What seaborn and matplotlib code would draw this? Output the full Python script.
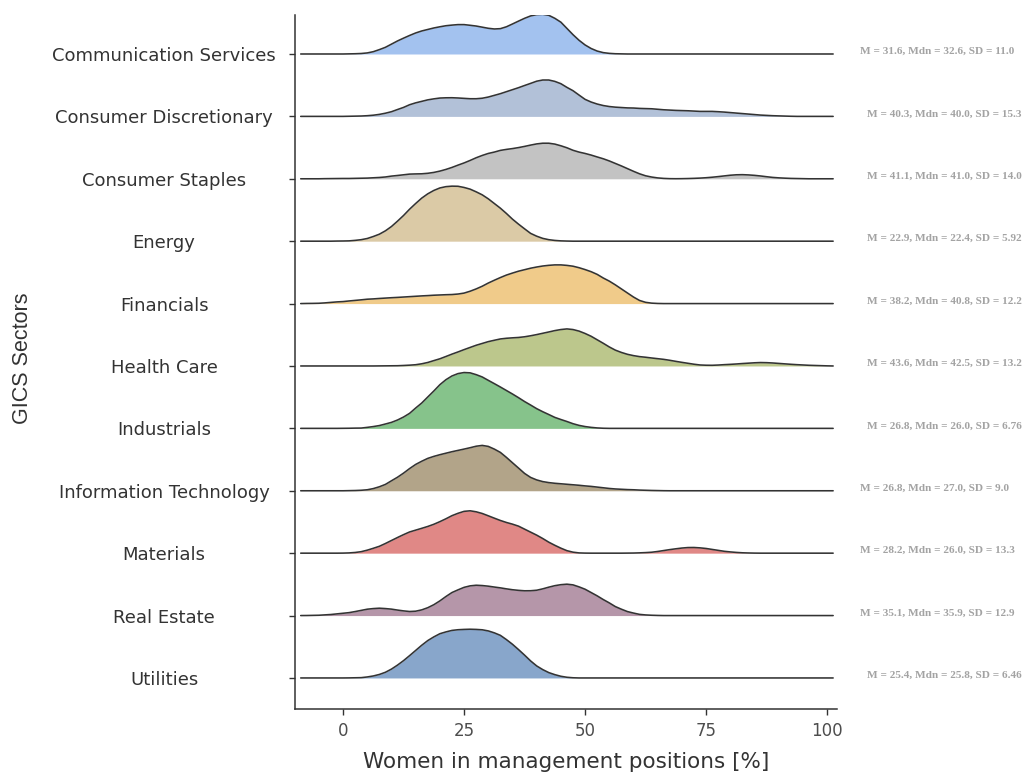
import numpy as np
import matplotlib
matplotlib.use("Agg")
import matplotlib.pyplot as plt
import seaborn as sns
from matplotlib import font_manager

# ---- data -------------------------------------------------------------
sectors = [
    "Communication Services", "Consumer Discretionary", "Consumer Staples",
    "Energy", "Financials", "Health Care", "Industrials",
    "Information Technology", "Materials", "Real Estate", "Utilities",
]

# evaluation points of the density curves (share of women, %)
pct = [-8.75, -7.5, -6.25, -5.0, -3.75, -2.5, -1.25, 0.0, 1.25, 2.5,
       3.75, 5.0, 6.25, 7.5, 8.75, 10.0, 11.25, 12.5, 13.75, 15.0,
       16.25, 17.5, 18.75, 20.0, 21.25, 22.5, 23.75, 25.0, 26.25, 27.5,
       28.75, 30.0, 31.25, 32.5, 33.75, 35.0, 36.25, 37.5, 38.75, 40.0,
       41.25, 42.5, 43.75, 45.0, 46.25, 47.5, 48.75, 50.0, 51.25, 52.5,
       53.75, 55.0, 56.25, 57.5, 58.75, 60.0, 61.25, 62.5, 63.75, 65.0,
       66.25, 67.5, 68.75, 70.0, 71.25, 72.5, 73.75, 75.0, 76.25, 77.5,
       78.75, 80.0, 81.25, 82.5, 83.75, 85.0, 86.25, 87.5, 88.75, 90.0,
       91.25, 92.5, 93.75, 95.0, 96.25, 97.5, 98.75, 100.0, 101.25]

# scaled density heights per sector (1.0 = one row of the ridgeline)
dens_communication = [
    0, 0, 0, 0, 0, 0, 0, 0, 0.002, 0.004,
    0.008, 0.017, 0.037, 0.07, 0.107, 0.158, 0.209, 0.254, 0.297, 0.337,
    0.369, 0.393, 0.417, 0.436, 0.453, 0.463, 0.471, 0.471, 0.46, 0.448,
    0.43, 0.412, 0.401, 0.406, 0.436, 0.481, 0.527, 0.572, 0.61, 0.631,
    0.636, 0.62, 0.572, 0.51, 0.41, 0.31, 0.22, 0.145, 0.088, 0.047,
    0.022, 0.01, 0.004, 0.002, 0, 0, 0, 0, 0, 0,
    0, 0, 0, 0, 0, 0, 0, 0, 0, 0,
    0, 0, 0, 0, 0, 0, 0, 0, 0, 0,
    0, 0, 0, 0, 0, 0, 0, 0, 0]
dens_discretionary = [
    0, 0, 0, 0, 0, 0, 0, 0, 0.002, 0.004,
    0.006, 0.011, 0.019, 0.032, 0.051, 0.075, 0.11, 0.144, 0.187, 0.217,
    0.241, 0.265, 0.281, 0.294, 0.298, 0.299, 0.295, 0.289, 0.283, 0.283,
    0.291, 0.31, 0.337, 0.364, 0.396, 0.428, 0.46, 0.495, 0.529, 0.564,
    0.583, 0.583, 0.561, 0.524, 0.465, 0.412, 0.342, 0.273, 0.23, 0.198,
    0.174, 0.158, 0.148, 0.142, 0.136, 0.134, 0.128, 0.125, 0.122, 0.114,
    0.106, 0.101, 0.096, 0.093, 0.09, 0.085, 0.08, 0.08, 0.08, 0.075,
    0.069, 0.061, 0.053, 0.045, 0.037, 0.029, 0.021, 0.016, 0.011, 0.008,
    0.005, 0.002, 0, 0, 0, 0, 0, 0, 0]
dens_staples = [
    0, 0, 0, 0, 0.002, 0.003, 0.004, 0.005, 0.005, 0.007,
    0.009, 0.011, 0.016, 0.021, 0.029, 0.043, 0.053, 0.064, 0.075, 0.078,
    0.08, 0.088, 0.102, 0.123, 0.15, 0.182, 0.219, 0.254, 0.294, 0.337,
    0.374, 0.406, 0.428, 0.455, 0.471, 0.484, 0.5, 0.519, 0.54, 0.559,
    0.57, 0.57, 0.556, 0.529, 0.497, 0.457, 0.428, 0.406, 0.38, 0.35,
    0.321, 0.286, 0.246, 0.206, 0.163, 0.12, 0.08, 0.048, 0.028, 0.014,
    0.006, 0.002, 0.001, 0.002, 0.004, 0.007, 0.011, 0.017, 0.025, 0.035,
    0.046, 0.057, 0.064, 0.066, 0.062, 0.055, 0.045, 0.033, 0.022, 0.015,
    0.01, 0.006, 0.004, 0.002, 0, 0, 0, 0, 0]
dens_energy = [
    0, 0, 0, 0, 0, 0, 0.002, 0.003, 0.005, 0.013,
    0.024, 0.043, 0.075, 0.112, 0.166, 0.235, 0.321, 0.412, 0.513, 0.604,
    0.69, 0.759, 0.813, 0.853, 0.874, 0.882, 0.88, 0.861, 0.834, 0.791,
    0.743, 0.679, 0.604, 0.529, 0.444, 0.353, 0.273, 0.198, 0.125, 0.08,
    0.045, 0.024, 0.012, 0.005, 0.002, 0, 0, 0, 0, 0,
    0, 0, 0, 0, 0, 0, 0, 0, 0, 0,
    0, 0, 0, 0, 0, 0, 0, 0, 0, 0,
    0, 0, 0, 0, 0, 0, 0, 0, 0, 0,
    0, 0, 0, 0, 0, 0, 0, 0, 0]
dens_financials = [
    0, 0.002, 0.003, 0.005, 0.011, 0.019, 0.027, 0.032, 0.042, 0.051,
    0.06, 0.07, 0.075, 0.082, 0.088, 0.094, 0.099, 0.105, 0.111, 0.117,
    0.123, 0.128, 0.134, 0.138, 0.142, 0.145, 0.153, 0.168, 0.198, 0.235,
    0.278, 0.329, 0.374, 0.417, 0.457, 0.489, 0.519, 0.543, 0.567, 0.586,
    0.602, 0.613, 0.62, 0.62, 0.612, 0.599, 0.575, 0.545, 0.511, 0.468,
    0.41, 0.36, 0.3, 0.235, 0.17, 0.105, 0.05, 0.02, 0.007, 0.002,
    0, 0, 0, 0, 0, 0, 0, 0, 0, 0,
    0, 0, 0, 0, 0, 0, 0, 0, 0, 0,
    0, 0, 0, 0, 0, 0, 0, 0, 0]
dens_health = [
    0, 0, 0, 0, 0, 0, 0, 0, 0, 0,
    0, 0, 0, 0.001, 0.002, 0.003, 0.004, 0.008, 0.013, 0.02,
    0.035, 0.056, 0.086, 0.115, 0.152, 0.19, 0.225, 0.262, 0.297, 0.332,
    0.361, 0.39, 0.412, 0.433, 0.444, 0.451, 0.457, 0.468, 0.484, 0.503,
    0.524, 0.545, 0.567, 0.584, 0.594, 0.584, 0.559, 0.521, 0.476, 0.42,
    0.364, 0.305, 0.254, 0.217, 0.187, 0.166, 0.15, 0.14, 0.128, 0.117,
    0.106, 0.091, 0.074, 0.058, 0.043, 0.028, 0.016, 0.012, 0.011, 0.015,
    0.021, 0.026, 0.032, 0.039, 0.045, 0.051, 0.055, 0.053, 0.048, 0.041,
    0.034, 0.027, 0.021, 0.016, 0.011, 0.008, 0.005, 0.002, 0]
dens_industrials = [
    0, 0, 0, 0, 0, 0, 0, 0.001, 0.002, 0.004,
    0.005, 0.016, 0.029, 0.045, 0.07, 0.096, 0.134, 0.182, 0.241, 0.326,
    0.406, 0.503, 0.599, 0.7, 0.78, 0.84, 0.878, 0.895, 0.89, 0.861,
    0.824, 0.77, 0.717, 0.663, 0.607, 0.551, 0.492, 0.43, 0.374, 0.316,
    0.267, 0.222, 0.176, 0.142, 0.11, 0.075, 0.048, 0.029, 0.016, 0.007,
    0.002, 0, 0, 0, 0, 0, 0, 0, 0, 0,
    0, 0, 0, 0, 0, 0, 0, 0, 0, 0,
    0, 0, 0, 0, 0, 0, 0, 0, 0, 0,
    0, 0, 0, 0, 0, 0, 0, 0, 0]
dens_it = [
    0, 0, 0, 0, 0, 0, 0, 0, 0.002, 0.004,
    0.008, 0.016, 0.035, 0.064, 0.102, 0.16, 0.217, 0.283, 0.356, 0.422,
    0.473, 0.519, 0.551, 0.578, 0.602, 0.626, 0.647, 0.668, 0.69, 0.714,
    0.727, 0.711, 0.668, 0.615, 0.535, 0.449, 0.364, 0.278, 0.214, 0.174,
    0.147, 0.131, 0.12, 0.112, 0.104, 0.096, 0.088, 0.078, 0.07, 0.059,
    0.048, 0.037, 0.029, 0.024, 0.019, 0.016, 0.011, 0.008, 0.005, 0.003,
    0.001, 0, 0, 0, 0, 0, 0, 0, 0, 0,
    0, 0, 0, 0, 0, 0, 0, 0, 0, 0,
    0, 0, 0, 0, 0, 0, 0, 0, 0]
dens_materials = [
    0, 0, 0, 0, 0, 0, 0, 0.001, 0.004, 0.011,
    0.024, 0.048, 0.078, 0.11, 0.155, 0.203, 0.251, 0.297, 0.34, 0.369,
    0.398, 0.428, 0.463, 0.505, 0.551, 0.601, 0.639, 0.67, 0.679, 0.663,
    0.636, 0.599, 0.561, 0.524, 0.492, 0.465, 0.433, 0.385, 0.337, 0.289,
    0.235, 0.176, 0.126, 0.08, 0.04, 0.016, 0.004, 0.001, 0, 0,
    0, 0, 0, 0, 0.001, 0.002, 0.005, 0.009, 0.015, 0.027,
    0.042, 0.057, 0.07, 0.082, 0.09, 0.091, 0.085, 0.075, 0.06, 0.045,
    0.03, 0.02, 0.012, 0.006, 0.003, 0.001, 0, 0, 0, 0,
    0, 0, 0, 0, 0, 0, 0, 0, 0]
dens_real_estate = [
    0, 0.001, 0.003, 0.005, 0.011, 0.017, 0.027, 0.037, 0.047, 0.064,
    0.083, 0.102, 0.112, 0.118, 0.112, 0.103, 0.088, 0.075, 0.065, 0.07,
    0.091, 0.126, 0.174, 0.235, 0.305, 0.369, 0.412, 0.452, 0.476, 0.486,
    0.481, 0.471, 0.457, 0.444, 0.428, 0.414, 0.404, 0.397, 0.398, 0.406,
    0.428, 0.455, 0.479, 0.495, 0.503, 0.492, 0.46, 0.422, 0.369, 0.316,
    0.257, 0.203, 0.144, 0.102, 0.064, 0.04, 0.019, 0.01, 0.005, 0.002,
    0, 0, 0, 0, 0, 0, 0, 0, 0, 0,
    0, 0, 0, 0, 0, 0, 0, 0, 0, 0,
    0, 0, 0, 0, 0, 0, 0, 0, 0]
dens_utilities = [
    0, 0, 0, 0, 0, 0, 0, 0, 0.001, 0.003,
    0.005, 0.016, 0.032, 0.056, 0.091, 0.142, 0.206, 0.278, 0.358, 0.441,
    0.524, 0.599, 0.658, 0.709, 0.738, 0.762, 0.773, 0.778, 0.781, 0.778,
    0.772, 0.754, 0.723, 0.683, 0.615, 0.54, 0.455, 0.366, 0.273, 0.193,
    0.134, 0.086, 0.053, 0.027, 0.011, 0.003, 0, 0, 0, 0,
    0, 0, 0, 0, 0, 0, 0, 0, 0, 0,
    0, 0, 0, 0, 0, 0, 0, 0, 0, 0,
    0, 0, 0, 0, 0, 0, 0, 0, 0, 0,
    0, 0, 0, 0, 0, 0, 0, 0, 0]

densities = [dens_communication, dens_discretionary, dens_staples, dens_energy,
             dens_financials, dens_health, dens_industrials, dens_it,
             dens_materials, dens_real_estate, dens_utilities]

summary_labels = [
    "M = 31.6, Mdn = 32.6, SD = 11.0",
    "M = 40.3, Mdn = 40.0, SD = 15.3",
    "M = 41.1, Mdn = 41.0, SD = 14.0",
    "M = 22.9, Mdn = 22.4, SD = 5.92",
    "M = 38.2, Mdn = 40.8, SD = 12.2",
    "M = 43.6, Mdn = 42.5, SD = 13.2",
    "M = 26.8, Mdn = 26.0, SD = 6.76",
    "M = 26.8, Mdn = 27.0, SD = 9.0",
    "M = 28.2, Mdn = 26.0, SD = 13.3",
    "M = 35.1, Mdn = 35.9, SD = 12.9",
    "M = 25.4, Mdn = 25.8, SD = 6.46",
]

x_ticks = [0, 25, 50, 75, 100]

# ---- style ------------------------------------------------------------
fills = ["#a3c2ef", "#b2c1d8", "#c3c3c3", "#dbcaa6", "#f0cb8a", "#bcc78c",
         "#86c38b", "#b2a489", "#e08886", "#b596a9", "#88a6cb"]
note_x = [106.8, 108.3, 108.3, 108.3, 108.3, 108.3, 108.3, 106.8, 106.8, 106.8, 108.3]

sns.set_style("ticks")
plt.rcParams["font.family"] = ["DejaVu Sans"]

installed = {f.name for f in font_manager.fontManager.ttflist}
if "Liberation Sans Narrow" in installed:
    ylab_font, ylab_size = "Liberation Sans Narrow", 19
else:
    ylab_font, ylab_size = "Liberation Sans", 15.5

fig = plt.figure(figsize=(10.27, 7.73), dpi=100)
ax = fig.add_axes([0.2869, 0.0834, 0.5279, 0.8972])

n = len(sectors)
pct_arr = np.array(pct)
for k, (name, dens) in enumerate(zip(sectors, densities)):
    base = n - 1 - k
    top = base + np.array(dens)
    ax.fill_between(pct_arr, base, top, color=fills[k], lw=0, zorder=2 + 2 * k)
    sns.lineplot(x=pct_arr, y=top, ax=ax, color="#333333", lw=1.15,
                 estimator=None, sort=False, zorder=3 + 2 * k, legend=False,
                 solid_joinstyle="round")
    ax.text(note_x[k], base, summary_labels[k], ha="left", va="baseline",
            fontsize=8.1, fontweight="bold", color="#a3a3a3",
            family="Liberation Serif", clip_on=False)

ax.set_xlim(-10, 102)
ax.set_ylim(-0.49, 10.625)
ax.set_xticks(x_ticks)
ax.set_xticklabels([str(t) for t in x_ticks])
ax.set_yticks([n - 1 - k for k in range(n)])
ax.set_yticklabels(sectors)
for lbl in ax.get_yticklabels():
    lbl.set_ha("center")

for side in ("top", "right"):
    ax.spines[side].set_visible(False)
for side in ("left", "bottom"):
    ax.spines[side].set_color("#333333")
    ax.spines[side].set_linewidth(1.1)

ax.tick_params(axis="y", length=4, width=1, color="#333333", pad=90,
               labelsize=13, labelcolor="#333333")
ax.tick_params(axis="x", length=4, width=1, color="#333333", pad=6,
               labelsize=12, labelcolor="#4d4d4d")

ax.set_xlabel("Women in management positions [%]", fontsize=15.5,
              color="#333333", labelpad=8)
ax.set_ylabel("GICS Sectors", fontsize=ylab_size, family=ylab_font,
              color="#333333")
ax.yaxis.set_label_coords(-0.483, 0.505)
ax.set_facecolor("white")
fig.patch.set_facecolor("white")

fig.savefig("out.png", dpi=100)
